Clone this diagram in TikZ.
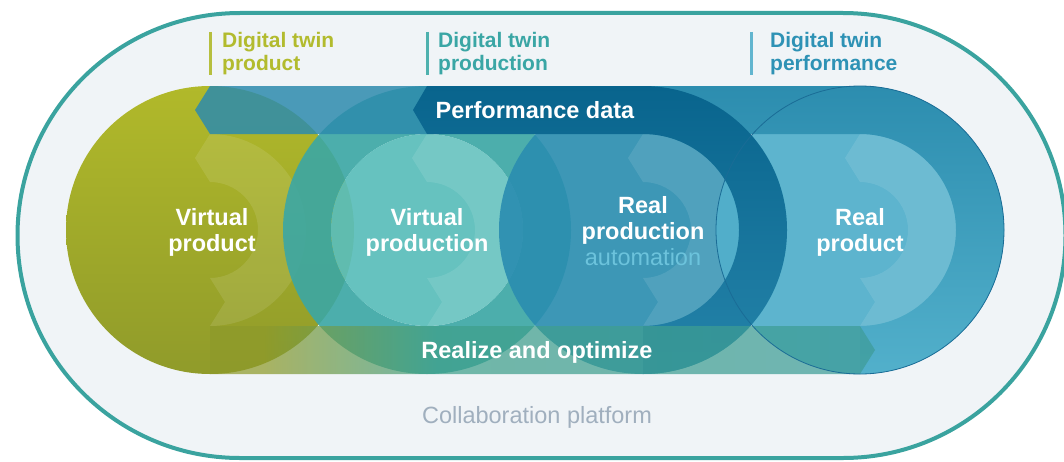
\documentclass[tikz,border=0pt]{standalone}
\usepackage{fontspec}
\setmainfont{Liberation Sans}
\usetikzlibrary{positioning}

\definecolor{cPanel}{HTML}{F0F4F7}
\definecolor{cFrame}{HTML}{3AA39F}
\definecolor{cOlive}{HTML}{B1B92A}
\definecolor{cOliveDk}{HTML}{909B2A}
\definecolor{cTealRing}{HTML}{3BA7A4}
\definecolor{cTealIn}{HTML}{5BBEBB}
\definecolor{cBlueIn}{HTML}{2A8DB0}
\definecolor{cSkyIn}{HTML}{52B0CB}
\definecolor{cSkyLine}{HTML}{1A6C96}
\definecolor{cBand}{HTML}{2D8BAD}
\definecolor{cBandTop}{HTML}{2C8DAF}
\definecolor{cBandMid}{HTML}{2F90B2}
\definecolor{cDark}{HTML}{08648D}
\definecolor{cDarkLow}{HTML}{2584AA}
\definecolor{cLowOlive}{HTML}{8E9A2A}
\definecolor{cLowMid}{HTML}{3FA08A}
\definecolor{cLowTeal}{HTML}{3E9C98}
\definecolor{cAuto}{HTML}{6CC3DC}
\definecolor{cPlatform}{HTML}{A0AFBE}
\definecolor{cTwinA}{HTML}{B2BB2E}
\definecolor{cTwinB}{HTML}{3AA6A5}
\definecolor{cTwinC}{HTML}{2E92B5}
\definecolor{cBarA}{HTML}{B6BF3F}
\definecolor{cBarB}{HTML}{4EB1AE}
\definecolor{cBarC}{HTML}{62B5CF}

% olive on the left, teal from the second circle on
\pgfdeclarehorizontalshading{lowband}{100bp}{color(0bp)=(cLowOlive); color(29bp)=(cLowOlive);
  color(42bp)=(cLowMid); color(75bp)=(cLowTeal); color(100bp)=(cLowTeal)}

\begin{document}
\begin{tikzpicture}
  [x=1pt,y=1pt,
   mainlbl/.style={text=white,align=center,inner sep=0,
     font=\fontsize{23.5}{26}\selectfont\bfseries},
   bandlbl/.style={text=white,inner sep=0,
     font=\fontsize{23.5}{26}\selectfont\bfseries},
   twinlbl/.style={anchor=north west,align=left,inner sep=0,
     font=\fontsize{21}{23}\selectfont\bfseries},
   twinbar/.style={line width=3pt},
   swirl/.style={fill=white,opacity=.1}]
  \useasboundingbox (0,230) rectangle (1064,-231);

  % collaboration platform
  \draw[line width=4pt,draw=cFrame,fill=cPanel] (240,217) -- (843,217)
    arc[start angle=90,end angle=-90,radius=222.5] -- (240,-228)
    arc[start angle=-90,end angle=-270,radius=222.5] -- cycle;

  % the four circles, each with its turning arrow
  \shade[top color=cOlive,middle color=cOlive,bottom color=cOliveDk]
    (210,0) circle[radius=144];
  \foreach \c in {210}
    \fill[swirl] (\c,96) -- ({\c-15},72) -- (\c,48)
      arc[start angle=90,end angle=-90,radius=48] -- ({\c+15},-72) -- (\c,-96)
      arc[start angle=-90,end angle=90,radius=96] -- cycle;

  \fill[cTealRing,opacity=.9,even odd rule] (427,0) circle[radius=144] circle[radius=96];
  \fill[cTealIn,opacity=.92] (427,0) circle[radius=96];
  \foreach \c in {427}
    \fill[swirl] (\c,96) -- ({\c-15},72) -- (\c,48)
      arc[start angle=90,end angle=-90,radius=48] -- ({\c+15},-72) -- (\c,-96)
      arc[start angle=-90,end angle=90,radius=96] -- cycle;

  \fill[cBlueIn,opacity=.9] (643,0) circle[radius=144];
  \foreach \c in {643}
    \fill[swirl] (\c,96) -- ({\c-15},72) -- (\c,48)
      arc[start angle=90,end angle=-90,radius=48] -- ({\c+15},-72) -- (\c,-96)
      arc[start angle=-90,end angle=90,radius=96] -- cycle;

  \fill[cSkyIn,opacity=.93] (860,0) circle[radius=144];
  \foreach \c in {860}
    \fill[swirl] (\c,96) -- ({\c-15},72) -- (\c,48)
      arc[start angle=90,end angle=-90,radius=48] -- ({\c+15},-72) -- (\c,-96)
      arc[start angle=-90,end angle=90,radius=96] -- cycle;

  % performance data band
  \fill[cBand,opacity=.85] (210,144) -- (195,120) -- (210,96) -- (427,96) -- (427,144) -- cycle;
  \shade[top color=cBandTop,middle color=cBandMid,bottom color=cSkyIn]
    (643,144) -- (860,144) arc[start angle=90,end angle=-90,radius=144]
    -- (860,-96) arc[start angle=-90,end angle=90,radius=96] -- (643,96) -- cycle;
  \shade[top color=cDark,bottom color=cDarkLow]
    (427,144) -- (643,144) arc[start angle=90,end angle=-90,radius=144]
    -- (643,-96) arc[start angle=-90,end angle=90,radius=96] -- (427,96)
    -- (413,120) -- cycle;

  % realize and optimize band
  \shade[shading=lowband,opacity=.72]
    (210,-96) -- (860,-96) -- (875,-120) -- (860,-144) -- (210,-144) -- cycle;

  \draw[cSkyLine,line width=.8pt] (860,0) circle[radius=144];

  % labels
  \node[mainlbl] (vprod) at (212,-2) {Virtual\\product};
  \node[mainlbl] (vprodn) at (427,-2) {Virtual\\production};
  \node[mainlbl] (rprodn) at (643,-1) {Real\\production\\{\mdseries\color{cAuto}automation}};
  \node[mainlbl] (rprod) at (860,-2) {Real\\product};
  \node[bandlbl] (perf) at (535,120) {Performance data};
  \node[bandlbl] (realize) at (537,-122) {Realize and optimize};
  \node[text=cPlatform,inner sep=0,font=\fontsize{23.5}{26}\selectfont]
    (collab) at (537,-187) {Collaboration platform};

  \node[twinlbl,text=cTwinA] (twinprod) at (222,198) {Digital twin\\product};
  \node[twinlbl,text=cTwinB] (twinprodn) at (438,198) {Digital twin\\production};
  \node[twinlbl,text=cTwinC] (twinperf) at (770,198) {Digital twin\\performance};
  \draw[twinbar,cBarA] ([xshift=-12pt]twinprod.north west) -- ([xshift=-12pt]twinprod.south west);
  \draw[twinbar,cBarB] ([xshift=-11pt]twinprodn.north west) -- ([xshift=-11pt]twinprodn.south west);
  \draw[twinbar,cBarC] ([xshift=-19pt]twinperf.north west) -- ([xshift=-19pt]twinperf.south west);
\end{tikzpicture}
\end{document}
